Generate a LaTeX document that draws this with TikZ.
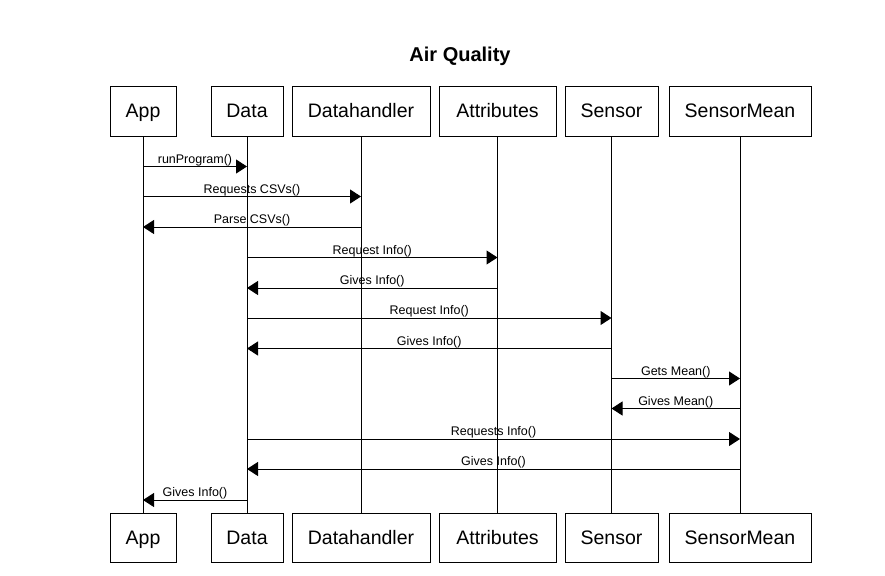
\documentclass[tikz,border=0pt]{standalone}
\usepackage{fontspec}
\setmainfont{Liberation Sans}
\usetikzlibrary{arrows.meta}
\begin{document}
\begin{tikzpicture}[x=1pt,y=-1pt,
  actor/.style={draw,line width=1pt,minimum height=49pt,inner sep=0pt,text height=15pt,text depth=3pt,font=\fontsize{19.5}{22}\selectfont},
  life/.style={line width=1pt},
  msg/.style={line width=1pt,-{Triangle[length=11pt,width=14pt]}},
  lbl/.style={font=\fontsize{12.5}{14}\selectfont,above=0pt,inner sep=1pt,text height=9pt,text depth=2pt}]
\useasboundingbox (0,0) rectangle (885,575);
\node[font=\bfseries\fontsize{20}{24}\selectfont] (title) at (460,56) {Air Quality};
% top actors
\node[actor,minimum width=66pt]  (app)  at (143,111.5) {App};
\node[actor,minimum width=72pt]  (data) at (247,111.5) {Data};
\node[actor,minimum width=138pt] (dh)   at (361,111.5) {Datahandler};
\node[actor,minimum width=117pt] (attr) at (497.5,111.5) {Attributes};
\node[actor,minimum width=93pt]  (sen)  at (611.5,111.5) {Sensor};
\node[actor,minimum width=142pt] (sm)   at (740,111.5) {SensorMean};
% bottom actors
\node[actor,minimum width=66pt]  (appb)  at (143,538) {App};
\node[actor,minimum width=72pt]  (datab) at (247,538) {Data};
\node[actor,minimum width=138pt] (dhb)   at (361,538) {Datahandler};
\node[actor,minimum width=117pt] (attrb) at (497.5,538) {Attributes};
\node[actor,minimum width=93pt]  (senb)  at (611.5,538) {Sensor};
\node[actor,minimum width=142pt] (smb)   at (740,538) {SensorMean};
% lifelines
\draw[life] (app.south) -- (appb.north);
\draw[life] (data.south) -- (datab.north);
\draw[life] (dh.south) -- (dhb.north);
\draw[life] (attr.south) -- (attrb.north);
\draw[life] (sen.south) -- (senb.north);
\draw[life] (sm.south) -- (smb.north);
% message rows
\coordinate (r1) at (0,166.5);
\coordinate (r2) at (0,196.5);
\coordinate (r3) at (0,227);
\coordinate (r4) at (0,257.5);
\coordinate (r5) at (0,288);
\coordinate (r6) at (0,318);
\coordinate (r7) at (0,348.5);
\coordinate (r8) at (0,378.5);
\coordinate (r9) at (0,408.5);
\coordinate (r10) at (0,439);
\coordinate (r11) at (0,469);
\coordinate (r12) at (0,500);
\draw[msg] (app |- r1) -- node[lbl]{runProgram()} (data |- r1);
\draw[msg] (app |- r2) -- node[lbl]{Requests CSVs()} (dh |- r2);
\draw[msg] (dh |- r3) -- node[lbl]{Parse CSVs()} (app |- r3);
\draw[msg] (data |- r4) -- node[lbl]{Request Info()} (attr |- r4);
\draw[msg] (attr |- r5) -- node[lbl]{Gives Info()} (data |- r5);
\draw[msg] (data |- r6) -- node[lbl]{Request Info()} (sen |- r6);
\draw[msg] (sen |- r7) -- node[lbl]{Gives Info()} (data |- r7);
\draw[msg] (sen |- r8) -- node[lbl]{Gets Mean()} (sm |- r8);
\draw[msg] (sm |- r9) -- node[lbl]{Gives Mean()} (sen |- r9);
\draw[msg] (data |- r10) -- node[lbl]{Requests Info()} (sm |- r10);
\draw[msg] (sm |- r11) -- node[lbl]{Gives Info()} (data |- r11);
\draw[msg] (data |- r12) -- node[lbl]{Gives Info()} (app |- r12);
\end{tikzpicture}
\end{document}
